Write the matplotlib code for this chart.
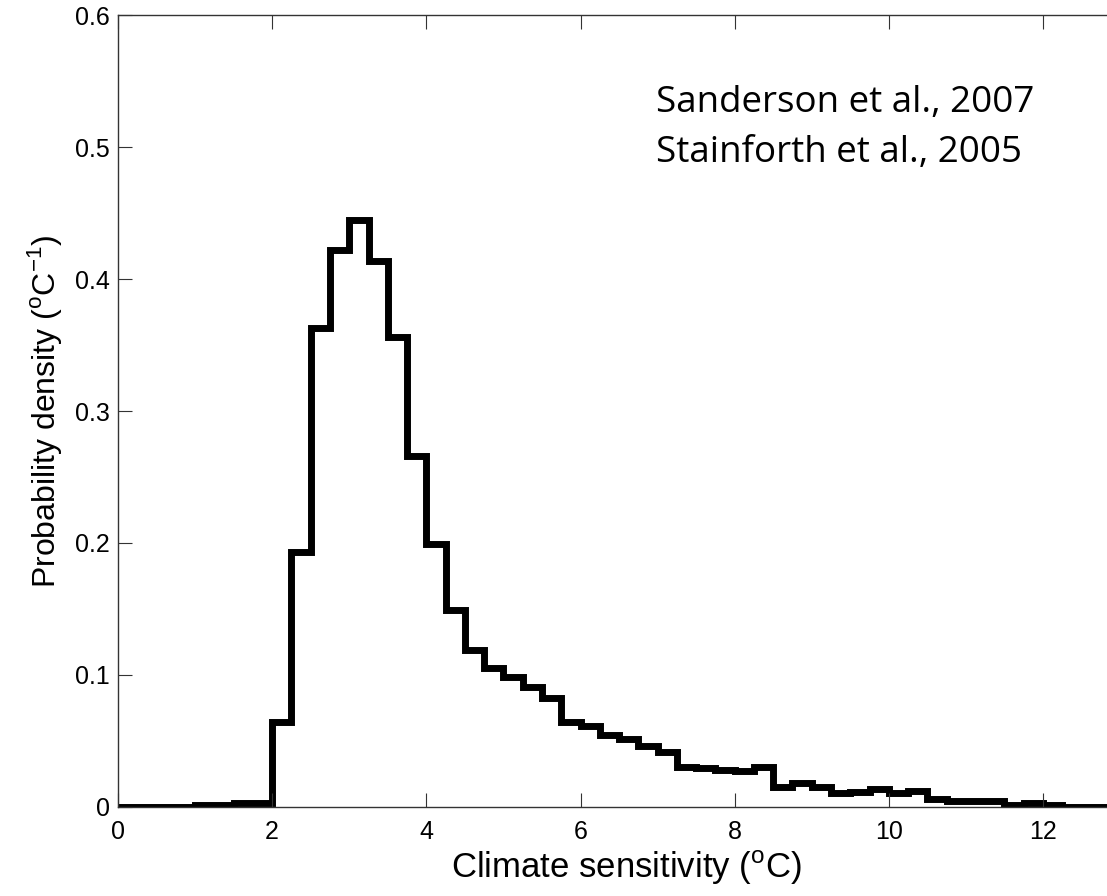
import numpy as np
import matplotlib.pyplot as plt

# Histogram of climate sensitivity, bins of 0.25 degC from 0 to 13.25
bin_edges = np.arange(0, 13.26, 0.25)
density = [0.0, 0.0, 0.0, 0.0, 0.001, 0.001, 0.003, 0.003,
           0.064, 0.193, 0.363, 0.422, 0.445, 0.414, 0.356, 0.266,
           0.199, 0.149, 0.119, 0.105, 0.098, 0.091, 0.082, 0.064,
           0.061, 0.054, 0.051, 0.046, 0.041, 0.030, 0.029, 0.028,
           0.027, 0.030, 0.015, 0.018, 0.015, 0.010, 0.011, 0.013,
           0.010, 0.012, 0.006, 0.004, 0.004, 0.004, 0.001, 0.003,
           0.001, 0.0, 0.0, 0.0, 0.0]

xticks = [0, 2, 4, 6, 8, 10, 12]
yticks = [0, 0.1, 0.2, 0.3, 0.4, 0.5, 0.6]
ytick_labels = ['0', '0.1', '0.2', '0.3', '0.4', '0.5', '0.6']
refs = ['Sanderson et al., 2007', 'Stainforth et al., 2005']

plt.rcParams['font.family'] = ['Liberation Sans', 'DejaVu Sans']
plt.rcParams['mathtext.fontset'] = 'custom'
plt.rcParams['mathtext.rm'] = 'Liberation Sans'

fig = plt.figure(figsize=(11.07, 8.96), dpi=100)
# axes run past the right edge of the picture, as in the original crop
ax = fig.add_axes([118 / 1107, 89.5 / 896, 1017.5 / 1107, 791 / 896])

ax.stairs(density, bin_edges, baseline=None, color='black', linewidth=5)

ax.set_xlim(0, 13.2)
ax.set_ylim(0, 0.6)
ax.set_xticks(xticks)
ax.set_yticks(yticks)
ax.set_yticklabels(ytick_labels)
ax.tick_params(direction='in', length=10, width=0.8, labelsize=18,
               top=True, right=True, colors='#333333', labelcolor='black')
ax.tick_params(axis='x', pad=10)
ax.tick_params(axis='y', pad=6)
for s in ax.spines.values():
    s.set_linewidth(1.0)
    s.set_color('#333333')

ax.set_xlabel('Climate sensitivity ($^{\\mathrm{o}}$C)', fontsize=25, labelpad=3)
ax.set_ylabel('Probability density ($^{\\mathrm{o}}$C$^{-1}$)', fontsize=23, labelpad=8)

ax.text(656 / 1107, (896 - 112) / 896, refs[0], transform=fig.transFigure,
        fontsize=26.5, family='Open Sans', va='baseline', ha='left')
ax.text(656 / 1107, (896 - 162) / 896, refs[1], transform=fig.transFigure,
        fontsize=26.5, family='Open Sans', va='baseline', ha='left')

fig.savefig('out.png', dpi=100)
